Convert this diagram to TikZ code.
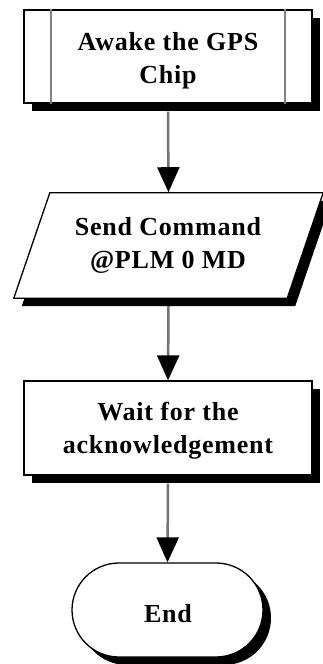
\documentclass[tikz,border=0pt]{standalone}
\usepackage{fontspec}
\setmainfont{Liberation Serif}
\usetikzlibrary{arrows.meta,shapes.misc,shadows}
\begin{document}
\begin{tikzpicture}[x=1pt,y=-1pt,
  hardshadow/.style={drop shadow={shadow xshift=8pt,shadow yshift=-8pt,fill=black,opacity=1}},
  stepbox/.style={draw=black,line width=1.3pt,fill=white,inner sep=0pt,hardshadow},
  terminal/.style={stepbox,rounded rectangle},
  outline/.style={draw=black,line width=1.3pt,fill=white},
  sidebar/.style={draw=black!50,line width=2.2pt},
  txt/.style={font=\fontsize{26}{33}\selectfont\bfseries\addfontfeature{LetterSpace=3},align=center,inner sep=0pt},
  flow/.style={draw=black!55,line width=2.5pt,-{Triangle[width=22pt,length=25pt,color=black]}}
]
\useasboundingbox (0,0) rectangle (322,664);

% process with side bars
\node[stepbox,minimum width=288pt,minimum height=93pt] (awake) at (168,56.5) {};
\draw[sidebar] ([xshift=28pt]awake.north west) -- ([xshift=28pt]awake.south west);
\draw[sidebar] ([xshift=-28pt]awake.north east) -- ([xshift=-28pt]awake.south east);
\node[txt] (awaketxt) at (168,60.5) {Awake the GPS\\Chip};

% input/output: parallelogram drawn inside its named frame
\node[inner sep=0pt,minimum width=309pt,minimum height=105pt] (send) at (168.5,245.5) {};
\fill[black] ([shift={(44,8)}]send.north west) -- ([shift={(8,8)}]send.north east)
  -- ([shift={(-28,8)}]send.south east) -- ([shift={(8,8)}]send.south west) -- cycle;
\draw[outline] ([xshift=36pt]send.north west) -- (send.north east)
  -- ([xshift=-36pt]send.south east) -- (send.south west) -- cycle;
\node[txt] (sendtxt) at (168,245) {Send Command\\@PLM 0 MD};

% process
\node[stepbox,minimum width=288pt,minimum height=94pt] (wait) at (168,428) {};
\node[txt] (waittxt) at (168,430.5) {Wait for the\\acknowledgement};

% terminator
\node[terminal,minimum width=191pt,minimum height=94pt] (stop) at (167.5,610) {};
\node[txt] (stoptxt) at (168,613.4) {End};

% connectors
\draw[flow] ([yshift=-8pt]awake.south) -- ([yshift=0.6pt]send.north);
\draw[flow] ([yshift=-8pt]send.south) -- (wait.north);
\draw[flow] ([yshift=-8pt]wait.south) -- (stop.north);
\end{tikzpicture}
\end{document}
